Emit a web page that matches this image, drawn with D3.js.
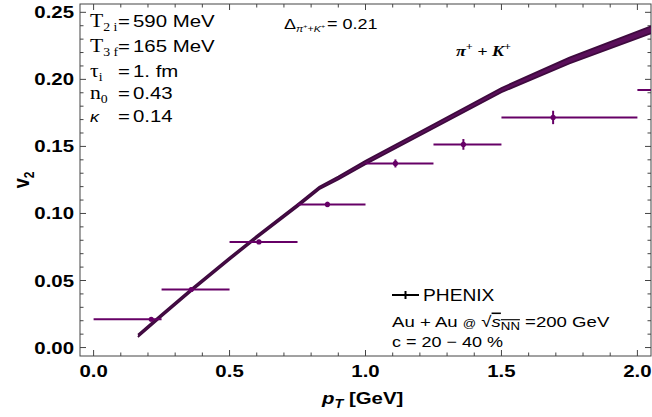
<!DOCTYPE html>
<html>
<head>
<meta charset="utf-8">
<script src="https://cdn.jsdelivr.net/npm/d3@7"></script>
<style>
  body { margin: 0; background: #fff; }
  text { font-family: "Liberation Sans", Arial, sans-serif; fill: #000; }
  .serif { font-family: "Liberation Serif", "Times New Roman", serif; }
</style>
</head>
<body>
<svg id="chart" width="652" height="417"></svg>
<script>
// PHENIX pi+ + K+ v2, Au+Au 200 GeV, 20-40%
var binLo  = [0.00, 0.25, 0.50, 0.75, 1.00, 1.25, 1.50, 2.00];
var binHi  = [0.25, 0.50, 0.75, 1.00, 1.25, 1.50, 2.00, 2.50];
var ptMean = [0.212, 0.359, 0.608, 0.860, 1.110, 1.360, 1.690, 2.200];
var v2Data = [0.0211, 0.0433, 0.0788, 0.1067, 0.1373, 0.1515, 0.1716, 0.1920];
var v2Err  = [0.0015, 0.0015, 0.0015, 0.0020, 0.0030, 0.0040, 0.0050, 0.0070];

// model band
var ptModel = [0.163, 0.25, 0.36, 0.50, 0.60, 0.75, 0.83, 0.90, 1.00, 1.25, 1.50, 1.75, 2.05];
var v2Upper = [0.0096, 0.0249, 0.0439, 0.0672, 0.0834, 0.1070, 0.1200, 0.1276, 0.1393, 0.1664, 0.1936, 0.2162, 0.2396];
var v2Lower = [0.0078, 0.0231, 0.0421, 0.0654, 0.0816, 0.1050, 0.1180, 0.1254, 0.1367, 0.1636, 0.1904, 0.2118, 0.2344];

var xTicks = [0.0, 0.5, 1.0, 1.5, 2.0];
var yTicks = [0.00, 0.05, 0.10, 0.15, 0.20, 0.25];

var svg = d3.select("#chart");
var L = 80, R = 651, T = 4, B = 356;
var x = d3.scaleLinear().domain([-0.05, 2.05]).range([L, R]);
var y = d3.scaleLinear().domain([-0.0063, 0.2562]).range([B, T]);
var sx = 1.2; // text in the original is horizontally stretched

svg.append("defs").append("clipPath").attr("id", "clip")
  .append("rect").attr("x", L).attr("y", T).attr("width", R - L).attr("height", B - T);

// frame + ticks
var frameCol = "#444";
var minorX = d3.range(0, 2.05, 0.1).map(function(d) { return +d.toFixed(2); });
var minorY = d3.range(0, 0.2562, 0.01).map(function(d) { return +d.toFixed(3); });
function isMajor(v, step) { return Math.abs(v / step - Math.round(v / step)) < 1e-6; }

var axes = svg.append("g").attr("stroke", frameCol).attr("stroke-width", 1);
axes.append("rect").attr("x", L).attr("y", T).attr("width", R - L).attr("height", B - T).attr("fill", "none");
minorX.forEach(function(v) {
  var len = isMajor(v, 0.5) ? 6 : 3.5, px = x(v);
  axes.append("line").attr("x1", px).attr("x2", px).attr("y1", B).attr("y2", B - len);
  axes.append("line").attr("x1", px).attr("x2", px).attr("y1", T).attr("y2", T + len);
});
minorY.forEach(function(v) {
  var len = isMajor(v, 0.05) ? 6 : 3.5, py = y(v);
  axes.append("line").attr("x1", L).attr("x2", L + len).attr("y1", py).attr("y2", py);
  axes.append("line").attr("x1", R).attr("x2", R - len).attr("y1", py).attr("y2", py);
});

function stext(px, py, anchor, size, weight) {
  return svg.append("text")
    .attr("transform", "translate(" + px + "," + py + ") scale(" + sx + ",1)")
    .attr("text-anchor", anchor || "start")
    .style("font-size", size + "px")
    .style("font-weight", weight || "normal");
}

xTicks.forEach(function(v) {
  stext(x(v), 377, "middle", 17, "bold").text(v.toFixed(1));
});
yTicks.forEach(function(v) {
  stext(74, y(v) + 6, "end", 17, "bold").text(v.toFixed(2));
});

// axis labels
svg.append("text").attr("transform", "translate(29,180) rotate(-90) scale(1,1.2)")
  .attr("text-anchor", "middle").style("font-size", "18px").style("font-weight", "bold")
  .call(function(t) {
    t.append("tspan").text("v");
    t.append("tspan").attr("dy", 4).style("font-size", "12px").text("2");
  });
var xl = stext(322, 404, "start", 17, "bold");
xl.append("tspan").style("font-style", "italic").text("p");
xl.append("tspan").attr("dy", 4).style("font-size", "12px").style("font-style", "italic").text("T");
xl.append("tspan").attr("dy", -4).text(" [GeV]");

// model band
var g = svg.append("g").attr("clip-path", "url(#clip)");
var idx = d3.range(ptModel.length);
var bandCol = "#5a0f5a", edgeCol = "#3e0a3e";
g.append("path").datum(idx)
  .attr("d", d3.area().x(function(i) { return x(ptModel[i]); })
    .y0(function(i) { return y(v2Lower[i]); }).y1(function(i) { return y(v2Upper[i]); }))
  .attr("fill", bandCol);
[v2Upper, v2Lower].forEach(function(arr) {
  g.append("path").datum(idx)
    .attr("d", d3.line().x(function(i) { return x(ptModel[i]); }).y(function(i) { return y(arr[i]); }))
    .attr("fill", "none").attr("stroke", edgeCol).attr("stroke-width", 1.7);
});

// data
var dataCol = "#660066";
var pts = g.append("g");
ptMean.forEach(function(p, i) {
  pts.append("line").attr("x1", x(binLo[i])).attr("x2", x(binHi[i]))
    .attr("y1", y(v2Data[i])).attr("y2", y(v2Data[i]))
    .attr("stroke", dataCol).attr("stroke-width", 2);
  pts.append("line").attr("x1", x(p)).attr("x2", x(p))
    .attr("y1", y(v2Data[i] - v2Err[i])).attr("y2", y(v2Data[i] + v2Err[i]))
    .attr("stroke", dataCol).attr("stroke-width", 2);
  pts.append("circle").attr("cx", x(p)).attr("cy", y(v2Data[i])).attr("r", 2.6).attr("fill", dataCol);
});

// parameter text
var params = [
  ["T", "2 i", "590 MeV", 27],
  ["T", "3 f", "165 MeV", 52],
  ["\u03c4", "i", "1. fm", 77],
  ["n", "0", "0.43", 99],
  ["\u03ba", "", "0.14", 122]
];
params.forEach(function(p) {
  var t = stext(90, p[3], "start", 18).attr("class", "serif");
  var main = t.append("tspan").text(p[0]);
  if (p[0] === "\u03ba") main.style("font-style", "italic").style("font-family", "Liberation Sans").style("font-size", "15px");
  t.append("tspan").attr("dy", 4).style("font-size", "11.5px").text(p[1]);
  stext(118, p[3], "start", 17).text("=");
  stext(133, p[3], "start", 17).text(p[2]);
});

var dl = stext(284, 29, "start", 15);
dl.append("tspan").text("\u0394");
dl.append("tspan").attr("dy", 3).style("font-size", "9px").style("font-style", "italic").text("\u03c0");
dl.append("tspan").attr("dy", -4).style("font-size", "6px").text("+");
dl.append("tspan").attr("dy", 4).style("font-size", "9px").text("+");
dl.append("tspan").style("font-size", "9px").style("font-style", "italic").text("K");
dl.append("tspan").attr("dy", -4).style("font-size", "6px").text("+");
stext(327, 29, "start", 15).text("= 0.21");

var pk = stext(456, 56, "start", 15, "bold").attr("class", "serif").style("font-style", "italic");
pk.append("tspan").text("\u03c0");
pk.append("tspan").attr("dy", -6).style("font-size", "10px").text("+");
pk.append("tspan").attr("dy", 6).text(" + K");
pk.append("tspan").attr("dy", -6).style("font-size", "10px").text("+");

// legend
svg.append("line").attr("x1", 392).attr("x2", 419).attr("y1", 295).attr("y2", 295).attr("stroke", "#000").attr("stroke-width", 2);
svg.append("line").attr("x1", 405.5).attr("x2", 405.5).attr("y1", 291).attr("y2", 299).attr("stroke", "#000").attr("stroke-width", 2);
stext(423, 301, "start", 16).text("PHENIX");
var au = stext(392, 327, "start", 15.5);
au.append("tspan").text("Au + Au ");
au.append("tspan").style("font-size", "11px").text("@");
au.append("tspan").text(" \u221a");
au.append("tspan").style("font-style", "italic").style("text-decoration", "overline").text("s");
au.append("tspan").attr("dy", 3).style("font-size", "11px").style("text-decoration", "overline").text("NN");
au.append("tspan").attr("dy", -3).text(" =200 GeV");
stext(392, 347, "start", 15).text("c = 20 \u2212 40 %");
</script>
</body>
</html>
